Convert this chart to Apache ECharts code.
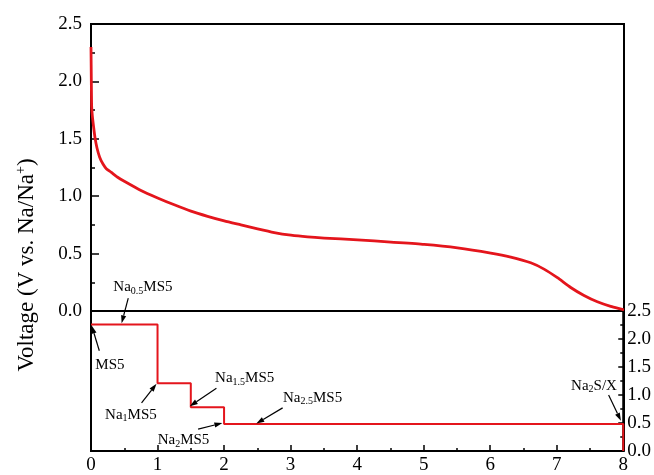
<!DOCTYPE html>
<html>
<head>
<meta charset="utf-8">
<script src="https://cdn.jsdelivr.net/npm/echarts@6/dist/echarts.min.js"></script>
<style>
html, body { margin: 0; background: #fff; }
#main { width: 654px; height: 475px; }
</style>
</head>
<body>
<div id="main"></div>
<script>
// discharge curve (top panel)
var capX = [0, 0.005, 0.01, 0.02, 0.04, 0.06, 0.09, 0.13, 0.18, 0.23, 0.3, 0.4, 0.5, 0.75, 1.0, 1.25, 1.5, 1.75, 2.0, 2.25, 2.5, 2.75, 3.0, 3.25, 3.5, 4.0, 4.5, 5.0, 5.5, 6.0, 6.3, 6.6, 6.8, 7.0, 7.2, 7.4, 7.6, 7.8, 8.0];
var voltage = [2.30, 2.0, 1.78, 1.70, 1.60, 1.51, 1.42, 1.34, 1.28, 1.24, 1.21, 1.165, 1.13, 1.05, 0.985, 0.925, 0.87, 0.825, 0.785, 0.75, 0.715, 0.683, 0.66, 0.645, 0.635, 0.62, 0.60, 0.58, 0.55, 0.505, 0.47, 0.42, 0.365, 0.29, 0.205, 0.135, 0.08, 0.04, 0.01];

// calculated step profile (bottom panel)
var stepX = [0, 1, 1.5, 2, 8];
var stepY = [2.26, 1.21, 0.78, 0.48, 0];

// annotations: [main, subscript, rest]
var noteLabels = [['Na', '0.5', 'MS5'], ['MS5', '', ''], ['Na', '1', 'MS5'], ['Na', '1.5', 'MS5'], ['Na', '2', 'MS5'], ['Na', '2.5', 'MS5'], ['Na', '2', 'S/X']];
var noteAt = [[0.78, 2.92], [0.285, 1.54], [0.6, 0.65], [2.31, 1.30], [1.39, 0.19], [3.33, 0.95], [7.56, 1.165]];
var noteFrom = [[0.56, 2.73], [0.125, 1.79], [0.76, 0.86], [1.885, 1.12], [1.61, 0.39], [2.88, 0.77], [7.78, 1.0]];
var noteTo = [[0.46, 2.28], [0.01, 2.24], [0.985, 1.2], [1.485, 0.80], [1.975, 0.50], [2.485, 0.49], [7.965, 0.54]];

var font = 'Liberation Serif';
var red = '#e4151c';

function zip(a, b) {
    return a.map(function (v, i) { return [v, b[i]]; });
}

var chart = echarts.init(document.getElementById('main'));

var option = {
    backgroundColor: '#fff',
    animation: false,
    grid: [
        { left: 91, right: 30, top: 24, height: 287, show: true, borderColor: '#000', borderWidth: 2 },
        { left: 91, right: 30, top: 311, height: 143, show: true, borderColor: '#000', borderWidth: 2 }
    ],
    xAxis: [
        {
            gridIndex: 0, type: 'value', min: 0, max: 8, interval: 1,
            axisLine: { show: false }, axisTick: { show: false },
            axisLabel: { show: false }, splitLine: { show: false }
        },
        {
            gridIndex: 1, type: 'value', min: 0, max: 8, interval: 1,
            axisLine: { onZero: false, lineStyle: { color: '#000', width: 2 } },
            axisTick: { inside: true, length: 6, lineStyle: { color: '#000', width: 1.5 } },
            minorTick: { show: true, splitNumber: 2, length: 3, lineStyle: { color: '#000', width: 1.5 } },
            axisLabel: { color: '#000', fontFamily: font, fontSize: 19, margin: 5 },
            splitLine: { show: false }
        }
    ],
    yAxis: [
        {
            gridIndex: 0, type: 'value', min: 0, max: 2.5, interval: 0.5,
            axisLine: { onZero: false, lineStyle: { color: '#000', width: 2 } },
            axisTick: { inside: true, length: 8, lineStyle: { color: '#000', width: 1.5 } },
            minorTick: { show: true, splitNumber: 2, length: 4, lineStyle: { color: '#000', width: 1.5 } },
            axisLabel: {
                color: '#000', fontFamily: font, fontSize: 19, margin: 9,
                formatter: function (v) { return v.toFixed(1); }
            },
            splitLine: { show: false }
        },
        {
            gridIndex: 1, type: 'value', position: 'right', min: 0, max: 2.5, interval: 0.5,
            axisLine: { onZero: false, lineStyle: { color: '#000', width: 2 } },
            axisTick: { inside: true, length: 5, lineStyle: { color: '#000', width: 1.5 } },
            minorTick: { show: true, splitNumber: 2, length: 3, lineStyle: { color: '#000', width: 1.5 } },
            axisLabel: {
                color: '#000', fontFamily: font, fontSize: 19, margin: 4,
                formatter: function (v) { return v.toFixed(1); }
            },
            splitLine: { show: false }
        }
    ],
    series: [
        {
            type: 'line', xAxisIndex: 0, yAxisIndex: 0,
            data: zip(capX, voltage),
            showSymbol: false, smooth: 0.2,
            lineStyle: { color: red, width: 2.8, join: 'round' }
        },
        {
            type: 'line', xAxisIndex: 1, yAxisIndex: 1,
            data: zip(stepX, stepY),
            step: 'end', showSymbol: false,
            lineStyle: { color: red, width: 2 }
        }
    ]
};

chart.setOption(option);

// annotations and rotated axis title
var richNote = {
    n: { fontFamily: font, fontSize: 15, lineHeight: 18, color: '#000', verticalAlign: 'middle' },
    s: { fontFamily: font, fontSize: 10, lineHeight: 10, color: '#000', verticalAlign: 'bottom' }
};

var elements = [];
noteLabels.forEach(function (lab, i) {
    var c = chart.convertToPixel({ gridIndex: 1 }, noteAt[i]);
    var a = chart.convertToPixel({ gridIndex: 1 }, noteFrom[i]);
    var b = chart.convertToPixel({ gridIndex: 1 }, noteTo[i]);
    var txt = '{n|' + lab[0] + '}' + (lab[1] ? '{s|' + lab[1] + '}' : '') + (lab[2] ? '{n|' + lab[2] + '}' : '');
    elements.push({
        type: 'text', x: c[0], y: c[1], z: 100,
        style: { text: txt, align: 'center', verticalAlign: 'middle', rich: richNote }
    });
    var dx = b[0] - a[0], dy = b[1] - a[1];
    var len = Math.sqrt(dx * dx + dy * dy);
    var ux = dx / len, uy = dy / len;
    var hl = 8, hw = 2.6;
    var bx = b[0] - ux * hl, by = b[1] - uy * hl;
    elements.push({
        type: 'line', z: 100,
        shape: { x1: a[0], y1: a[1], x2: bx, y2: by },
        style: { stroke: '#000', lineWidth: 1.2 }
    });
    elements.push({
        type: 'polygon', z: 100,
        shape: { points: [[b[0], b[1]], [bx - uy * hw, by + ux * hw], [bx + uy * hw, by - ux * hw]] },
        style: { fill: '#000' }
    });
});

elements.push({
    type: 'text', x: 27, y: 265, rotation: Math.PI / 2, z: 100,
    style: {
        text: '{a|Voltage (V vs. Na/Na}{p|+}{a|)}',
        align: 'center', verticalAlign: 'middle',
        rich: {
            a: { fontFamily: font, fontSize: 23, lineHeight: 26, color: '#000', verticalAlign: 'middle' },
            p: { fontFamily: font, fontSize: 14, lineHeight: 14, color: '#000', verticalAlign: 'top' }
        }
    }
});

chart.setOption({ graphic: { elements: elements } });
</script>
</body>
</html>
